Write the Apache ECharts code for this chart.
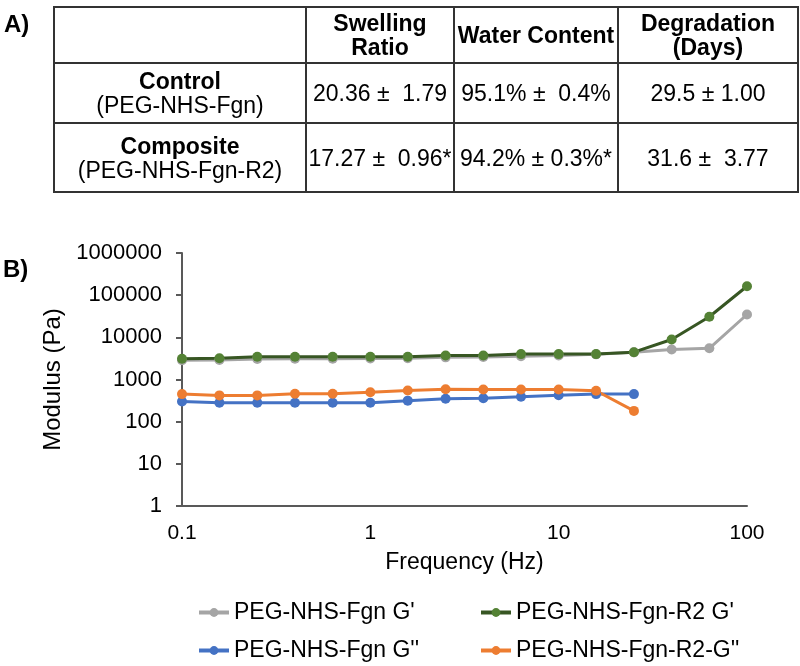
<!DOCTYPE html>
<html>
<head>
<meta charset="utf-8">
<script src="https://cdn.jsdelivr.net/npm/echarts@6/dist/echarts.min.js"></script>
<style>
  html, body { margin:0; padding:0; background:#fff; }
  body { width:800px; height:666px; position:relative; overflow:hidden; font-family:"Liberation Sans", Arial, sans-serif; color:#000; }
  #chart { position:absolute; left:0; top:0; width:800px; height:666px; }
  .panel { position:absolute; font-weight:bold; font-size:24px; }
  table { position:absolute; left:53px; top:6px; border-collapse:collapse; font-size:23px; line-height:24px; }
  td { border:2px solid #333; text-align:center; padding:0; white-space:nowrap; }
</style>
</head>
<body>
<div id="chart"></div>
<div class="panel" style="left:4px;top:10px;">A)</div>
<div class="panel" style="left:3px;top:255px;">B)</div>
<table>
  <tr style="height:56px;">
    <td style="width:250px;"></td>
    <td style="width:146px;"><b>Swelling<br>Ratio</b></td>
    <td style="width:162px;"><b>Water Content</b></td>
    <td style="width:178px;"><b>Degradation<br>(Days)</b></td>
  </tr>
  <tr style="height:60px;">
    <td><b>Control</b><br>(PEG-NHS-Fgn)</td>
    <td>20.36 ±&nbsp; 1.79</td>
    <td>95.1% ±&nbsp; 0.4%</td>
    <td>29.5 ± 1.00</td>
  </tr>
  <tr style="height:69px;">
    <td><b>Composite</b><br>(PEG-NHS-Fgn-R2)</td>
    <td>17.27 ±&nbsp; 0.96*</td>
    <td>94.2% ± 0.3%*</td>
    <td>31.6 ±&nbsp; 3.77</td>
  </tr>
</table>
<script>
const frequency = [0.1, 0.158, 0.251, 0.398, 0.631, 1, 1.58, 2.51, 3.98, 6.31, 10, 15.8, 25.1, 39.8, 63.1, 100];
const fgnGp   = [2850, 2900, 3050, 3100, 3100, 3150, 3200, 3350, 3400, 3550, 3700, 3950, 4400, 5150, 5500, 34800];
const r2Gp    = [3100, 3200, 3450, 3450, 3450, 3450, 3450, 3700, 3700, 4000, 4000, 4000, 4450, 8900, 30800, 163000];
const fgnGpp  = [300, 280, 280, 280, 280, 280, 315, 350, 360, 390, 425, 450, 450];
const r2Gpp   = [450, 420, 420, 460, 460, 500, 550, 590, 580, 580, 580, 540, 180];
const seriesNames = ["PEG-NHS-Fgn G'", "PEG-NHS-Fgn-R2 G'", "PEG-NHS-Fgn G''", "PEG-NHS-Fgn-R2-G''"];

function pairs(vals) { return vals.map((v, i) => [frequency[i], v]); }
const FONT = '"Liberation Sans", Arial, sans-serif';
function fmt(v) { return String(Number(Number(v).toPrecision(6))); }

const chart = echarts.init(document.getElementById('chart'), null, { renderer: 'canvas' });
function legendAt(name, left, top) {
  return {
    data: [name], left: left, top: top, itemWidth: 30, itemHeight: 11, itemGap: 0, padding: 0,
    lineStyle: { width: 4 },
    textStyle: { fontSize: 23, color: '#000', fontFamily: FONT }
  };
}
chart.setOption({
  animation: false,
  backgroundColor: 'transparent',
  textStyle: { fontFamily: FONT },
  grid: { left: 182, right: 53, top: 253, bottom: 160, containLabel: false },
  legend: [
    legendAt(seriesNames[0], 197, 601),
    legendAt(seriesNames[1], 479, 601),
    legendAt(seriesNames[2], 197, 639),
    legendAt(seriesNames[3], 479, 639)
  ],
  xAxis: {
    type: 'log', logBase: 10, min: 0.1, max: 100, splitNumber: 3,
    name: 'Frequency (Hz)', nameLocation: 'middle', nameGap: 45,
    nameTextStyle: { fontSize: 23, color: '#000', fontFamily: FONT },
    axisLine: { lineStyle: { color: '#595959', width: 2 } },
    axisTick: { show: false },
    splitLine: { show: false },
    axisLabel: { fontSize: 21, color: '#000', margin: 17, formatter: fmt, fontFamily: FONT }
  },
  yAxis: {
    type: 'log', logBase: 10, min: 1, max: 1000000, splitNumber: 6,
    name: 'Modulus (Pa)', nameLocation: 'middle', nameGap: 117, nameRotate: 90,
    nameTextStyle: { fontSize: 24, color: '#000', fontFamily: FONT },
    axisLine: { show: true, lineStyle: { color: '#595959', width: 2 } },
    axisTick: { show: true, inside: false, length: 6, lineStyle: { color: '#595959', width: 2 } },
    splitLine: { show: false },
    axisLabel: { fontSize: 22, color: '#000', margin: 20, formatter: fmt, fontFamily: FONT }
  },
  series: [
    { name: seriesNames[0], type: 'line', data: pairs(fgnGp), symbol: 'circle', symbolSize: 10,
      lineStyle: { color: '#A5A5A5', width: 3 }, itemStyle: { color: '#A5A5A5' } },
    { name: seriesNames[1], type: 'line', data: pairs(r2Gp), symbol: 'circle', symbolSize: 10,
      lineStyle: { color: '#375623', width: 3 }, itemStyle: { color: '#548235' } },
    { name: seriesNames[2], type: 'line', data: pairs(fgnGpp), symbol: 'circle', symbolSize: 10,
      lineStyle: { color: '#4472C4', width: 3 }, itemStyle: { color: '#4472C4' } },
    { name: seriesNames[3], type: 'line', data: pairs(r2Gpp), symbol: 'circle', symbolSize: 10,
      lineStyle: { color: '#ED7D31', width: 3 }, itemStyle: { color: '#ED7D31' } }
  ]
});
</script>
</body>
</html>
